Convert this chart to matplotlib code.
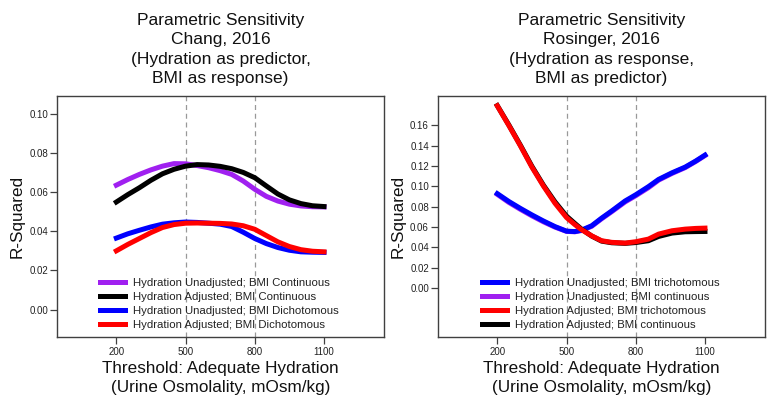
import matplotlib
matplotlib.use("Agg")
import matplotlib.pyplot as plt

plt.rcParams['font.family'] = ['Liberation Sans', 'DejaVu Sans']

# ---- left panel: Chang, 2016 ----
chang_x = [200, 250, 300, 350, 400, 450, 500, 550, 600, 650, 700, 750, 800, 850, 900, 950, 1000, 1050, 1100]
chang_unadj_cont = [0.0635, 0.0664, 0.0690, 0.0713, 0.0732, 0.0745, 0.0744, 0.0735, 0.0724, 0.0709, 0.0690, 0.0656, 0.0614, 0.0578, 0.0554, 0.0538, 0.0529, 0.0525, 0.0524]
chang_adj_cont = [0.0549, 0.0587, 0.0622, 0.0660, 0.0693, 0.0716, 0.0732, 0.0740, 0.0738, 0.0731, 0.0719, 0.0700, 0.0673, 0.0631, 0.0590, 0.0560, 0.0541, 0.0530, 0.0526]
chang_unadj_dich = [0.0365, 0.0387, 0.0405, 0.0422, 0.0436, 0.0443, 0.0447, 0.0445, 0.0441, 0.0436, 0.0424, 0.0395, 0.0363, 0.0337, 0.0317, 0.0303, 0.0295, 0.0293, 0.0292]
chang_adj_dich = [0.0300, 0.0333, 0.0363, 0.0393, 0.0419, 0.0434, 0.0441, 0.0442, 0.0441, 0.0440, 0.0437, 0.0428, 0.0410, 0.0378, 0.0346, 0.0322, 0.0306, 0.0298, 0.0295]

# ---- right panel: Rosinger, 2016 ----
ros_x = [200, 250, 300, 350, 400, 450, 500, 536, 565, 609, 652, 696, 754, 800, 855, 899, 957, 1014, 1060, 1100]
ros_unadj_tri = [0.0929, 0.0852, 0.0784, 0.0720, 0.0660, 0.0605, 0.0560, 0.0556, 0.0570, 0.0613, 0.0688, 0.0759, 0.0857, 0.0918, 0.0998, 0.1069, 0.1134, 0.1190, 0.1250, 0.1308]
ros_unadj_cont = [0.0922, 0.0843, 0.0775, 0.0711, 0.0652, 0.0600, 0.0558, 0.0554, 0.0566, 0.0608, 0.0682, 0.0752, 0.0848, 0.0909, 0.0988, 0.1062, 0.1128, 0.1185, 0.1246, 0.1304]
ros_adj_tri = [0.1793, 0.1600, 0.1400, 0.1190, 0.1004, 0.0835, 0.0694, 0.0625, 0.0575, 0.0514, 0.0466, 0.0450, 0.0443, 0.0456, 0.0482, 0.0531, 0.0564, 0.0580, 0.0587, 0.0590]
ros_adj_cont = [0.1795, 0.1605, 0.1406, 0.1198, 0.1012, 0.0848, 0.0708, 0.0636, 0.0580, 0.0512, 0.0462, 0.0446, 0.0440, 0.0448, 0.0466, 0.0508, 0.0541, 0.0554, 0.0556, 0.0557]

x_ticks = [200, 500, 800, 1100]
cutoffs = [500, 800]

fig = plt.figure(figsize=(7.77, 4.08), dpi=100)
ax1 = fig.add_axes([0.0734, 0.1728, 0.4208, 0.592])
ax2 = fig.add_axes([0.5637, 0.1728, 0.4208, 0.592])

lw = 3.6
l1 = ax1.plot(chang_x, chang_unadj_cont, color='#A020F0', lw=lw, label='Hydration Unadjusted; BMI Continuous')
l2 = ax1.plot(chang_x, chang_adj_cont, color='black', lw=lw, label='Hydration Adjusted; BMI Continuous')
l3 = ax1.plot(chang_x, chang_unadj_dich, color='blue', lw=lw, label='Hydration Unadjusted; BMI Dichotomous')
l4 = ax1.plot(chang_x, chang_adj_dich, color='red', lw=lw, label='Hydration Adjusted; BMI Dichotomous')

r2 = ax2.plot(ros_x, ros_unadj_cont, color='#A020F0', lw=lw, label='Hydration Unadjusted; BMI continuous')
r1 = ax2.plot(ros_x, ros_unadj_tri, color='blue', lw=lw, label='Hydration Unadjusted; BMI trichotomous')
r4 = ax2.plot(ros_x, ros_adj_cont, color='black', lw=lw, label='Hydration Adjusted; BMI continuous')
r3 = ax2.plot(ros_x, ros_adj_tri, color='red', lw=lw, label='Hydration Adjusted; BMI trichotomous')

ax1.set_ylim(-0.0142, 0.109)
ax1.set_yticks([0.00, 0.02, 0.04, 0.06, 0.08, 0.10])
ax2.set_ylim(-0.0486, 0.189)
ax2.set_yticks([0.00, 0.02, 0.04, 0.06, 0.08, 0.10, 0.12, 0.14, 0.16])

titles = ['Parametric Sensitivity\nChang, 2016\n(Hydration as predictor,\nBMI as response)',
          'Parametric Sensitivity\nRosinger, 2016\n(Hydration as response,\nBMI as predictor)']

for ax, title in zip([ax1, ax2], titles):
    ax.set_xlim(-57, 1360)
    ax.set_xticks(x_ticks)
    ax.yaxis.set_major_formatter(matplotlib.ticker.FormatStrFormatter('%.2f'))
    for c in cutoffs:
        ax.axvline(c, color='#999999', lw=0.9, ls=(0, (4, 3)), zorder=0)
    for s in ax.spines.values():
        s.set_color('#404040')
        s.set_linewidth(1.0)
    ax.tick_params(direction='out', length=5, width=0.9, color='#404040',
                   labelsize=7, pad=1.5, labelcolor='#222222')
    ax.set_title(title, fontsize=12.5, linespacing=1.35, pad=9.5, color='#111111')
    ax.set_xlabel('Threshold: Adequate Hydration\n(Urine Osmolality, mOsm/kg)',
                  fontsize=12.3, linespacing=1.33, labelpad=3, color='#111111')
    ax.set_ylabel('R-Squared', fontsize=12.3, labelpad=3, color='#111111')

leg_kw = dict(loc='upper left', frameon=False, fontsize=8.2, borderpad=0, borderaxespad=0,
              handlelength=2.2, handletextpad=0.75, labelspacing=0.37)
leg1 = ax1.legend(handles=[l1[0], l2[0], l3[0], l4[0]], bbox_to_anchor=(0.131, 0.2476), **leg_kw)
leg2 = ax2.legend(handles=[r1[0], r2[0], r3[0], r4[0]], bbox_to_anchor=(0.134, 0.2476), **leg_kw)
for leg in (leg1, leg2):
    for t in leg.get_texts():
        t.set_color('#222222')

fig.savefig('out.png', dpi=100)
